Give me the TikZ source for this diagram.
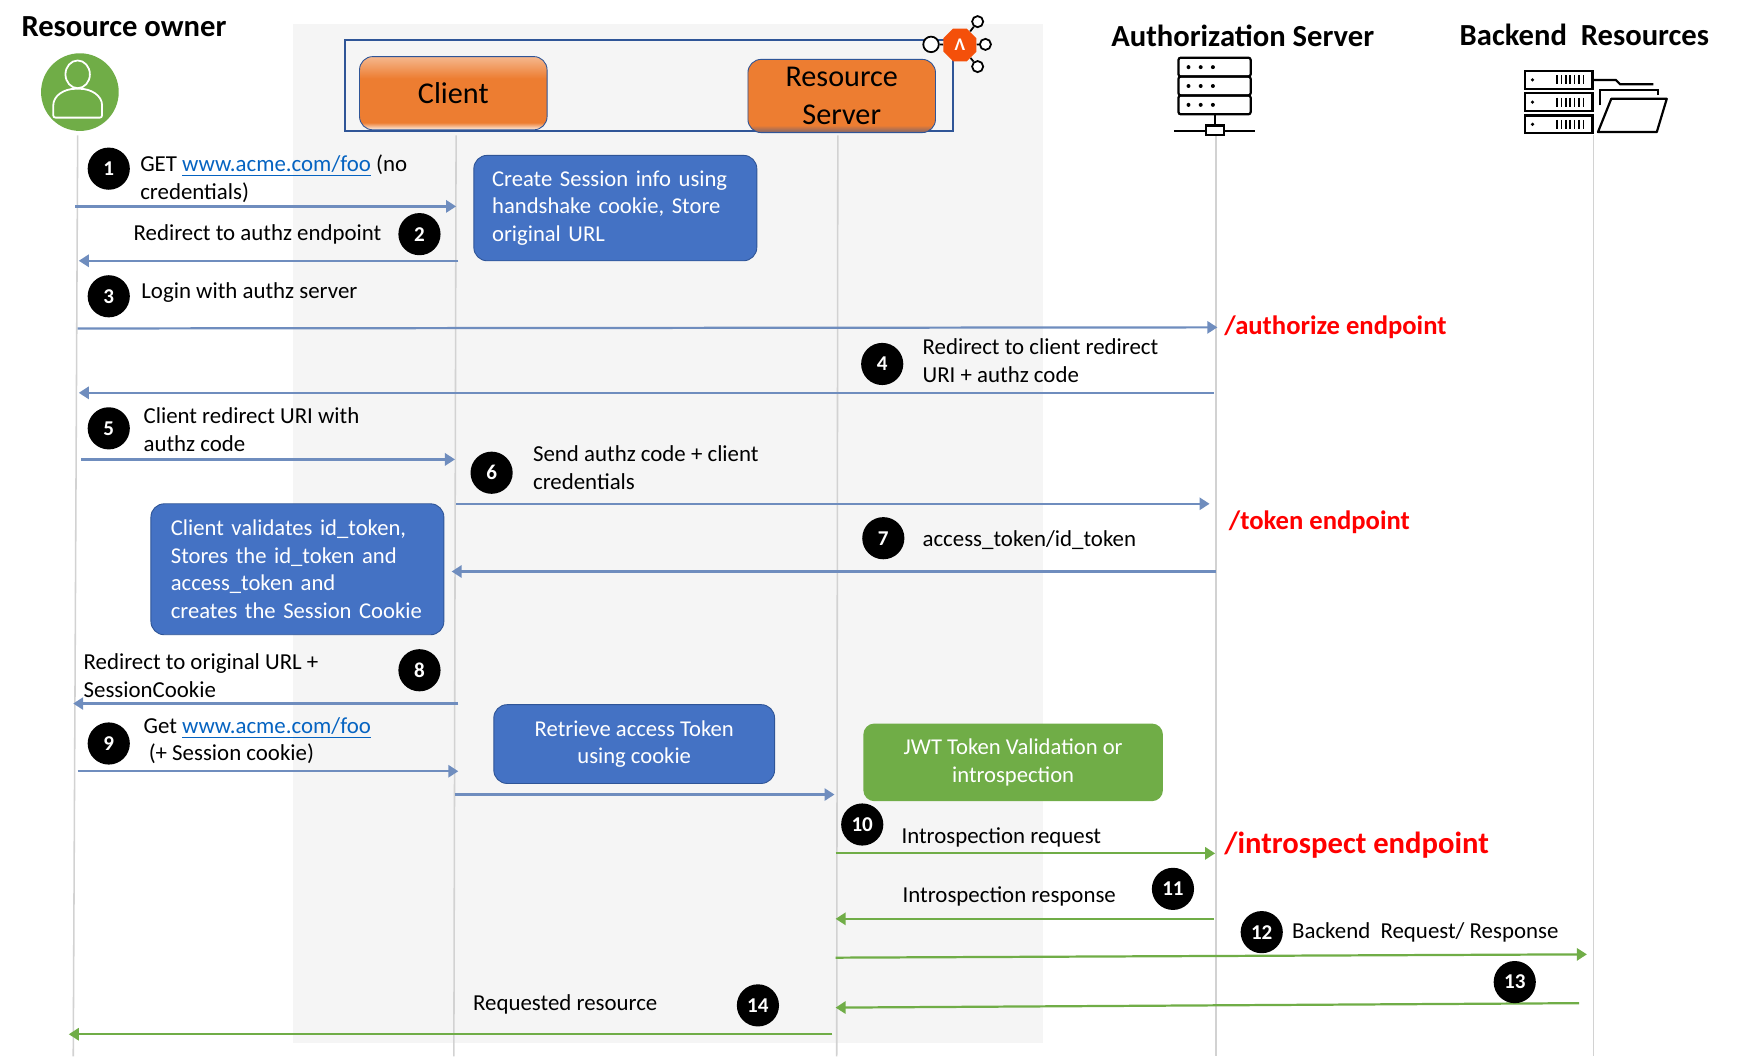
\documentclass[tikz,border=0pt]{standalone}
\usepackage{fontspec}
\setmainfont{Carlito}
\usetikzlibrary{positioning,shapes.geometric,arrows.meta,calc}
\definecolor{panelgray}{HTML}{F5F5F5}
\definecolor{lifegray}{HTML}{D2D2D2}
\definecolor{msgblue}{HTML}{6F8DBE}
\definecolor{msggreen}{HTML}{70AD47}
\definecolor{boxblue}{HTML}{4472C4}
\definecolor{edgeblue}{HTML}{2F5597}
\definecolor{orangebox}{HTML}{ED7D31}
\definecolor{linkblue}{HTML}{0563C1}
\definecolor{hexorange}{HTML}{F4500A}
\pgfdeclareverticalshading{clientshade}{100bp}{color(0bp)=(orangebox!10!white); color(25bp)=(orangebox!10!white); color(30bp)=(orangebox); color(60bp)=(orangebox); color(75bp)=(orangebox!55!white); color(100bp)=(orangebox!55!white)}
\pgfdeclareverticalshading{servershade}{100bp}{color(0bp)=(edgeblue!60!orangebox); color(25bp)=(edgeblue!60!orangebox); color(30bp)=(orangebox); color(100bp)=(orangebox)}
\tikzset{
  title/.style={font=\fontsize{13.8}{15}\selectfont\bfseries, anchor=west, inner sep=0pt},
  msg/.style={font=\fontsize{10.3}{12.5}\selectfont, anchor=west, align=left, inner sep=0pt},
  endpoint/.style={font=\fontsize{12}{14}\selectfont\bfseries, text=red, anchor=west, inner sep=0pt},
  badge/.style={circle, fill=black, text=white, minimum size=19pt, inner sep=0pt, font=\fontsize{9.5}{10}\selectfont\bfseries},
  bluebox/.style={draw=edgeblue, fill=boxblue, text=white, rounded corners=6pt, font=\fontsize{10.2}{12.5}\selectfont, inner sep=0pt},
  greenbox/.style={fill=msggreen, text=white, rounded corners=5pt, font=\fontsize{10.2}{12.5}\selectfont, align=center, inner sep=0pt},
  actor/.style={draw=edgeblue, rounded corners=6pt, font=\fontsize{13.6}{17}\selectfont, align=center, inner sep=0pt},
  life/.style={lifegray, line width=0.7pt},
  bmsg/.style={msgblue, line width=1pt, -{Triangle[length=4.5pt,width=5.5pt]}},
  gmsg/.style={msggreen, line width=1pt, -{Triangle[length=4.5pt,width=5.5pt]}},
  icon/.style={line width=1pt, rounded corners=1pt}
}
\newcommand{\acmelink}{\textcolor{linkblue}{\underline{www.acme.com/foo}}}
\begin{document}
\begin{tikzpicture}[x=0.5pt,y=-0.5pt]
  \useasboundingbox (0,0) rectangle (1568,952);
  \fill[panelgray] (264,22) rectangle (940,940);

  % lifelines
  \coordinate (ownertop) at (70,122);
  \coordinate (ownerend) at (66,952);
  \coordinate (clienttop) at (411,122);
  \coordinate (clientend) at (409,952);
  \coordinate (rstop) at (755,122);
  \coordinate (rsend) at (754,952);
  \coordinate (authtop) at (1096,122);
  \coordinate (authend) at (1096,952);
  \coordinate (backtop) at (1436,122);
  \coordinate (backend) at (1436,952);
  \draw[life] (ownertop) -- (ownerend);
  \draw[life] (clienttop) -- (clientend);
  \draw[life] (rstop) -- (rsend);
  \draw[life] (authtop) -- (authend);
  \draw[life] (backtop) -- (backend);

  % titles
  \node[title] (ownertitle) at (19,24) {Resource owner};
  \node[title] (authtitle) at (1001,32) {Authorization Server};
  \node[title] (backtitle) at (1315,31) {Backend\ \ Resources};

  % resource owner icon
  \fill[msggreen] (72,83) circle (35);
  \draw[white, line width=0.8pt] (70,67) ellipse (11 and 12.5);
  \draw[white, line width=0.8pt, rounded corners=1pt] (48,106) -- (48,97) .. controls (48,86) and (58,80) .. (70,80) .. controls (82,80) and (92,86) .. (92,97) -- (92,106) -- cycle;

  % client and resource server
  \draw[edgeblue, line width=0.8pt] (311,36) rectangle (859,118);
  \node[actor, shading=clientshade, minimum width=84.5pt, minimum height=33pt] (client) at (408.5,84) {Client};
  \node[actor, shading=servershade, minimum width=84.5pt, minimum height=33pt] (rserver) at (758.5,86.5) {Resource\\Server};

  % gateway icon
  \node[regular polygon, regular polygon sides=8, fill=hexorange, text=white, minimum size=16pt, inner sep=0pt, font=\fontsize{8}{8}\selectfont\bfseries] (hexicon) at (865,40.5) {Λ};
  \node[circle, draw, fill=white, minimum size=7pt, inner sep=0pt, line width=0.8pt] (hubleft) at (839,40) {};
  \node[circle, draw, fill=white, minimum size=5pt, inner sep=0pt, line width=0.8pt] (hubright) at (888,40) {};
  \node[circle, draw, fill=white, minimum size=5pt, inner sep=0pt, line width=0.8pt] (hubtop) at (881,19.5) {};
  \node[circle, draw, fill=white, minimum size=5pt, inner sep=0pt, line width=0.8pt] (hubbot) at (881,60) {};
  \draw[line width=0.8pt] (hubleft) -- (hexicon);
  \draw[line width=0.8pt] (hubright) -- (hexicon);
  \draw[line width=0.8pt] (hubtop) -- (hexicon);
  \draw[line width=0.8pt] (hubbot) -- (hexicon);

  % authorization server icon
  \draw[icon] (1062,52) rectangle (1127,69);
  \draw[icon] (1062,69) rectangle (1127,86);
  \draw[icon] (1062,86) rectangle (1127,103);
  \foreach \y in {60.5,77.5,94.5}
    \foreach \x in {1071,1082,1093}
      \fill (\x,\y) circle (1.8);
  \draw[line width=1pt] (1095,103) -- (1095,113);
  \draw[line width=1pt] (1058,118) -- (1131,118);
  \draw[line width=1pt, fill=white] (1087,113) rectangle (1103,122);

  % backend resources icon
  \foreach \y in {64,84,104} {
    \draw[line width=1pt] (1374,\y) rectangle (1435,\y+16);
    \fill (1381,\y+8) circle (1.6);
    \foreach \x in {1403,1407,1411,1415,1419,1423,1427}
      \draw[line width=0.7pt] (\x,\y+4) -- (\x,\y+12);
  }
  \draw[line width=1pt] (1435,72) -- (1456,72) -- (1460,76) -- (1490,76);
  \draw[line width=1pt] (1442,95) -- (1442,81) -- (1494,81) -- (1494,86);
  \draw[line width=1pt, line join=round] (1452,89) -- (1502,89) -- (1493,119) -- (1440,119) -- cycle;

  % boxes
  \node[bluebox, minimum width=127.5pt, minimum height=47.5pt, text width=111pt, align=left] (createbox) at (554.5,187.5) {Create Session info using\\handshake cookie, Store\\original URL};
  \node[bluebox, minimum width=132pt, minimum height=59pt, text width=114pt, align=left] (validbox) at (268,513) {Client validates id\_token,\\Stores the id\_token and\\access\_token and\\creates the Session Cookie};
  \node[bluebox, minimum width=126.5pt, minimum height=35.5pt, align=center] (tokenbox) at (571.5,670.5) {Retrieve access Token\\using cookie};
  \node[greenbox, minimum width=135pt, minimum height=35pt] (jwtbox) at (913,687) {JWT Token Validation or\\introspection};

  % message ends
  \coordinate (a1s) at (68,186);      \coordinate (a1e) at (411,186);
  \coordinate (a2s) at (413,235);     \coordinate (a2e) at (71,235);
  \coordinate (a3s) at (70,296);      \coordinate (a3e) at (1097,295);
  \coordinate (a4s) at (1094,354);    \coordinate (a4e) at (71,354);
  \coordinate (a5s) at (73,414);      \coordinate (a5e) at (410,414);
  \coordinate (a6s) at (411,454);     \coordinate (a6e) at (1090,454);
  \coordinate (a7s) at (1096,515);    \coordinate (a7e) at (407,515);
  \coordinate (a8s) at (413,634);     \coordinate (a8e) at (66,634);
  \coordinate (a9s) at (70,695);      \coordinate (a9e) at (413,695);
  \coordinate (a10s) at (410,716);    \coordinate (a10e) at (752,716);
  \coordinate (a11s) at (753,769);    \coordinate (a11e) at (1095,769);
  \coordinate (a12s) at (1094,828);   \coordinate (a12e) at (753,828);
  \coordinate (a13s) at (753,863);    \coordinate (a13e) at (1430,860);
  \coordinate (a14s) at (1423,904);   \coordinate (a14e) at (753,908);
  \coordinate (a15s) at (750,932);    \coordinate (a15e) at (62,932);

  \draw[bmsg] (a1s) -- (a1e);
  \draw[bmsg] (a2s) -- (a2e);
  \draw[bmsg] (a3s) -- (a3e);
  \draw[bmsg] (a4s) -- (a4e);
  \draw[bmsg] (a5s) -- (a5e);
  \draw[bmsg] (a6s) -- (a6e);
  \draw[bmsg] (a7s) -- (a7e);
  \draw[bmsg] (a8s) -- (a8e);
  \draw[bmsg] (a9s) -- (a9e);
  \draw[bmsg] (a10s) -- (a10e);
  \draw[gmsg] (a11s) -- (a11e);
  \draw[gmsg] (a12s) -- (a12e);
  \draw[gmsg] (a13s) -- (a13e);
  \draw[gmsg] (a14s) -- (a14e);
  \draw[gmsg] (a15s) -- (a15e);

  % labels
  \node[msg] (l1) at (126,161) {GET \acmelink{} (no\\credentials)};
  \node[msg] (l2) at (120,211) {Redirect to authz endpoint};
  \node[msg] (l3) at (127,264) {Login with authz server};
  \node[msg] (l4) at (831,325) {Redirect to client redirect\\URI + authz code};
  \node[msg] (l5) at (129,387) {Client redirect URI with\\authz code};
  \node[msg] (l6) at (480,421.5) {Send authz code + client\\credentials};
  \node[msg] (l7) at (831,487) {access\_token/id\_token};
  \node[msg] (l8) at (75,609) {Redirect to original URL +\\SessionCookie};
  \node[msg] (l9) at (129,667.5) {Get \acmelink{}\\\ (+ Session cookie)};
  \node[msg] (l10) at (812,755) {Introspection request};
  \node[msg] (l11) at (813,807.5) {Introspection response};
  \node[msg] (l12) at (1164,840.5) {Backend\ \ Request/ Response};
  \node[msg] (l14) at (426,905.5) {Requested resource};

  \node[endpoint] (authz) at (1103,295) {/authorize endpoint};
  \node[endpoint] (tokenep) at (1107,471) {/token endpoint};
  \node[endpoint, font=\fontsize{13.8}{16}\selectfont\bfseries] (introep) at (1103,762) {/introspect endpoint};

  % step badges
  \node[badge] (b1) at (98,152) {1};
  \node[badge] (b2) at (378,211) {2};
  \node[badge] (b3) at (98,267) {3};
  \node[badge] (b4) at (795,328) {4};
  \node[badge] (b5) at (98,386) {5};
  \node[badge] (b6) at (443,426) {6};
  \node[badge] (b7) at (796,485) {7};
  \node[badge] (b8) at (378,604) {8};
  \node[badge] (b9) at (98,670) {9};
  \node[badge] (b10) at (777,743) {10};
  \node[badge] (b11) at (1057,801) {11};
  \node[badge] (b12) at (1137,840) {12};
  \node[badge] (b13) at (1365,885) {13};
  \node[badge] (b14) at (683,906) {14};
\end{tikzpicture}
\end{document}
